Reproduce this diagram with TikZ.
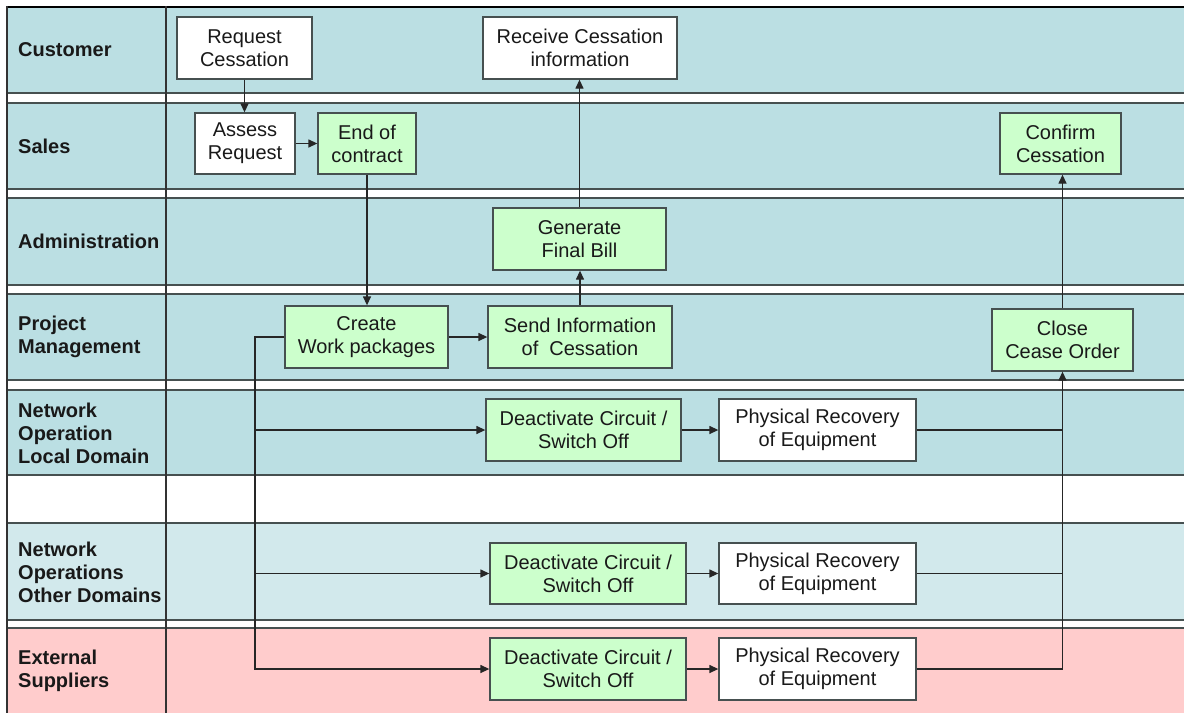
\documentclass[tikz,border=0pt]{standalone}
\usepackage{fontspec}
\setmainfont{Liberation Sans}
\usetikzlibrary{arrows.meta}
\definecolor{laneblue}{RGB}{187,223,227}
\definecolor{lanelight}{RGB}{210,233,236}
\definecolor{lanepink}{RGB}{255,204,204}
\definecolor{boxgreen}{RGB}{204,255,204}
\definecolor{linegray}{RGB}{70,80,80}
\begin{document}
\begin{tikzpicture}[x=1pt,y=-1pt,
  box/.style={draw=linegray,line width=1.3pt,inner sep=0pt,align=center,
    font=\fontsize{20}{23}\selectfont,text=black!90},
  wbox/.style={box,fill=white},
  gbox/.style={box,fill=boxgreen},
  lanelabel/.style={anchor=west,align=left,inner sep=0pt,
    font=\fontsize{20}{23}\selectfont\bfseries,text=black!90},
  conn/.style={draw=black!85,line width=1.3pt},
  arr/.style={conn,-{Triangle[length=9pt,width=8pt]}}]
\useasboundingbox (0,0) rectangle (1184,713);
\fill[white] (0,0) rectangle (1184,713);
% lanes
\path[fill=laneblue] (7,7) rectangle (1184,93);
\path[fill=laneblue] (7,103) rectangle (1184,189);
\path[fill=laneblue] (7,198) rectangle (1184,285);
\path[fill=laneblue] (7,294) rectangle (1184,380);
\path[fill=laneblue] (7,390) rectangle (1184,475);
\path[fill=lanelight] (7,523) rectangle (1184,620);
\path[fill=lanepink] (7,628) rectangle (1184,713);
\foreach \y in {93,103,189,198,285,294,380,390,475,523,620,628}
  \draw[linegray,line width=1.5pt] (7,\y) -- (1184,\y);
\draw[black,line width=2.4pt] (6,7) -- (1184,7);
\draw[black!80,line width=1.7pt] (7,6) -- (7,713);
\draw[black!80,line width=1.7pt] (166,6) -- (166,713);
% lane labels
\node[lanelabel] (lc) at (18,50) {Customer};
\node[lanelabel] (ls) at (18,146) {Sales};
\node[lanelabel] (la) at (18,241.5) {Administration};
\node[lanelabel] (lp) at (18,337) {Project\\Management};
\node[lanelabel] (ll) at (18,433) {Network\\Operation\\Local Domain};
\node[lanelabel] (lo) at (18,572) {Network\\Operations\\Other Domains};
\node[lanelabel] (le) at (18,671) {External\\Suppliers};
% boxes
\node[wbox,minimum width=135pt,minimum height=62pt] (rc) at (244.5,48) {Request\\Cessation};
\node[wbox,minimum width=194pt,minimum height=62pt] (rci) at (580,48) {Receive Cessation\\information};
\node[wbox,minimum width=100pt,minimum height=61pt] (ar) at (245,143.5) {Assess\\Request};
\node[gbox,minimum width=98pt,minimum height=61pt] (ec) at (367,143.5) {End of\\contract};
\node[gbox,minimum width=121pt,minimum height=61pt] (cc) at (1060.5,143.5) {Confirm\\Cessation};
\node[gbox,minimum width=173pt,minimum height=62pt] (gb) at (579.5,239) {Generate\\Final Bill};
\node[gbox,minimum width=163pt,minimum height=62pt] (cw) at (366.5,337) {Create\\Work packages};
\node[gbox,minimum width=184pt,minimum height=62pt] (si) at (580,337) {Send Information\\of~~Cessation};
\node[gbox,minimum width=141pt,minimum height=62pt] (co) at (1062.5,340) {Close\\Cease Order};
\node[gbox,minimum width=195pt,minimum height=62pt] (d1) at (583.5,430) {Deactivate Circuit /\\Switch Off};
\node[wbox,minimum width=197pt,minimum height=62pt] (p1) at (817.5,430) {Physical Recovery\\of Equipment};
\node[gbox,minimum width=196pt,minimum height=61pt] (d2) at (588,573.5) {Deactivate Circuit /\\Switch Off};
\node[wbox,minimum width=197pt,minimum height=61pt] (p2) at (817.5,573.5) {Physical Recovery\\of Equipment};
\node[gbox,minimum width=196pt,minimum height=62pt] (d3) at (588,669) {Deactivate Circuit /\\Switch Off};
\node[wbox,minimum width=197pt,minimum height=62pt] (p3) at (817.5,669) {Physical Recovery\\of Equipment};
% connectors
\draw[arr] (rc.south) -- (rc.south |- ar.north);
\draw[arr] (ar.east) -- (ec.west);
\draw[arr] (ec.south) -- (ec.south |- cw.north);
\draw[arr] (cw.east) -- (si.west);
\draw[arr] (si.north) -- (si.north |- gb.south);
\draw[arr] (gb.north) -- (gb.north |- rci.south);
\coordinate (bus) at (255,337);
\draw[arr] (cw.west) -- (bus) |- (d3.west);
\draw[arr] (bus |- d1.west) -- (d1.west);
\draw[arr] (bus |- d2.west) -- (d2.west);
\draw[arr] (d1.east) -- (p1.west);
\draw[arr] (d2.east) -- (p2.west);
\draw[arr] (d3.east) -- (p3.west);
\coordinate (rbus) at (co.south |- p3.east);
\draw[arr] (p3.east) -- (rbus) -- (co.south);
\draw[conn] (p1.east) -- (co.south |- p1.east);
\draw[conn] (p2.east) -- (co.south |- p2.east);
\draw[arr] (co.north) -- (co.north |- cc.south);
\end{tikzpicture}
\end{document}
